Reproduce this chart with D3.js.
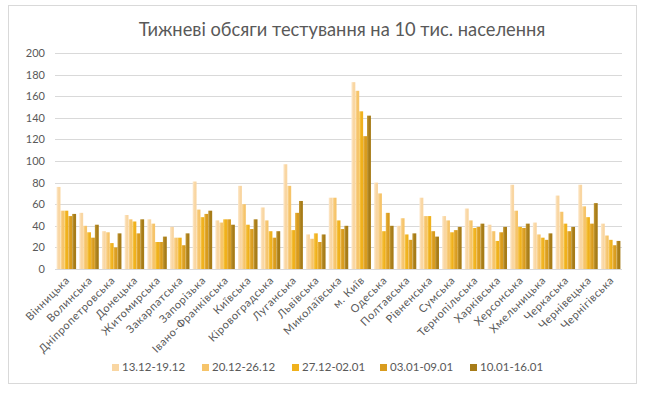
<!DOCTYPE html>
<html>
<head>
<meta charset="utf-8">
<style>
  body { margin: 0; background: #fff; }
  svg { display: block; font-family: Lato, "Open Sans", sans-serif; }
</style>
</head>
<body>
<svg id="svg" width="650" height="397"></svg>
<script src="https://cdn.jsdelivr.net/npm/d3@7"></script>
<script>
const regions = ["Вінницька", "Волинська", "Дніпропетровська", "Донецька", "Житомирська",
  "Закарпатська", "Запорізька", "Івано-Франківська", "Київська", "Кіровоградська",
  "Луганська", "Львівська", "Миколаївська", "м. Київ", "Одеська", "Полтавська",
  "Рівненська", "Сумська", "Тернопільська", "Харківська", "Херсонська", "Хмельницька",
  "Черкаська", "Чернівецька", "Чернігівська"]
const weeks = ["13.12-19.12", "20.12-26.12", "27.12-02.01", "03.01-09.01", "10.01-16.01"]
const w1 = [76, 52, 35, 50, 46, 39, 81, 45, 77, 57, 97, 32, 66, 173, 80, 40, 66, 49, 56, 41, 78, 43, 68, 78, 42]
const w2 = [54, 40, 34, 46, 42, 29, 55, 43, 60, 45, 77, 28, 66, 165, 70, 47, 49, 45, 45, 35, 54, 32, 53, 58, 31]
const w3 = [54, 34, 24, 44, 25, 29, 48, 46, 41, 35, 36, 33, 45, 146, 35, 32, 49, 34, 38, 26, 39, 29, 42, 48, 27]
const w4 = [49, 29, 20, 33, 25, 22, 51, 46, 37, 29, 52, 25, 37, 123, 52, 27, 35, 36, 39, 34, 38, 27, 35, 42, 22]
const w5 = [51, 41, 33, 46, 30, 33, 54, 41, 46, 35, 63, 32, 40, 142, 40, 33, 30, 39, 42, 39, 42, 33, 39, 61, 26]
const series = [w1, w2, w3, w4, w5]
const yTicks = [0, 20, 40, 60, 80, 100, 120, 140, 160, 180, 200]
const colors = ["#f9d6a2", "#f6c46a", "#f0b11c", "#d99c1e", "#a77c18"]
const lights = ["#fde9cc", "#fbdca6", "#f7cb5c", "#e9b64a", "#c49a38"]

const svg = d3.select("#svg")
const margin = { left: 55, right: 622, top: 53, bottom: 269 }

// frame
svg.append("rect")
  .attr("x", 8.5).attr("y", 5.5).attr("width", 628).attr("height", 378)
  .attr("fill", "#fff").attr("stroke", "#d9d9d9")

svg.append("text")
  .attr("x", 342).attr("y", 36)
  .attr("text-anchor", "middle")
  .attr("font-size", 18.3)
  .attr("fill", "#595959")
  .text("Тижневі обсяги тестування на 10 тис. населення")

const x = d3.scaleBand().domain(regions).range([margin.left, margin.right]).paddingInner(0.14).paddingOuter(0.07)
const xs = d3.scaleBand().domain(d3.range(5)).range([0, x.bandwidth()])
const y = d3.scaleLinear().domain([0, 200]).range([margin.bottom, margin.top])

const defs = svg.append("defs")
colors.forEach((c, i) => {
  const g = defs.append("linearGradient").attr("id", "g" + i)
    .attr("x1", "0").attr("x2", "1").attr("y1", "0").attr("y2", "0")
  g.append("stop").attr("offset", "0").attr("stop-color", lights[i])
  g.append("stop").attr("offset", "0.55").attr("stop-color", c)
  g.append("stop").attr("offset", "1").attr("stop-color", c)
})

// grid
svg.append("g")
  .selectAll("line").data(yTicks).enter().append("line")
  .attr("x1", margin.left).attr("x2", margin.right)
  .attr("y1", d => Math.round(y(d)) + 0.5).attr("y2", d => Math.round(y(d)) + 0.5)
  .attr("stroke", "#d9d9d9")

svg.append("g")
  .selectAll("text").data(yTicks).enter().append("text")
  .attr("x", 45).attr("y", d => y(d) + 4)
  .attr("text-anchor", "end")
  .attr("font-size", 11)
  .attr("fill", "#595959")
  .text(d => d)

// bars
series.forEach((vals, i) => {
  svg.append("g")
    .selectAll("rect").data(vals).enter().append("rect")
    .attr("x", (d, j) => x(regions[j]) + xs(i))
    .attr("y", d => y(d))
    .attr("width", xs.bandwidth())
    .attr("height", d => y(0) - y(d))
    .attr("fill", "url(#g" + i + ")")
})

// x labels
svg.append("g")
  .selectAll("text").data(regions).enter().append("text")
  .attr("transform", d => `translate(${x(d) + x.bandwidth() / 2 + 4},${y(0) + 12}) rotate(-45)`)
  .attr("text-anchor", "end")
  .attr("font-size", 11)
  .attr("letter-spacing", 0.6)
  .attr("fill", "#595959")
  .text(d => d)

// legend
const legendX = [112, 202, 292, 380, 470]
const legend = svg.append("g")
legend.selectAll("rect").data(weeks).enter().append("rect")
  .attr("x", (d, i) => legendX[i]).attr("y", 364)
  .attr("width", 7).attr("height", 7)
  .attr("fill", (d, i) => colors[i])
legend.selectAll("text").data(weeks).enter().append("text")
  .attr("x", (d, i) => legendX[i] + 10).attr("y", 371)
  .attr("font-size", 11.5)
  .attr("fill", "#595959")
  .text(d => d)
</script>
</body>
</html>
